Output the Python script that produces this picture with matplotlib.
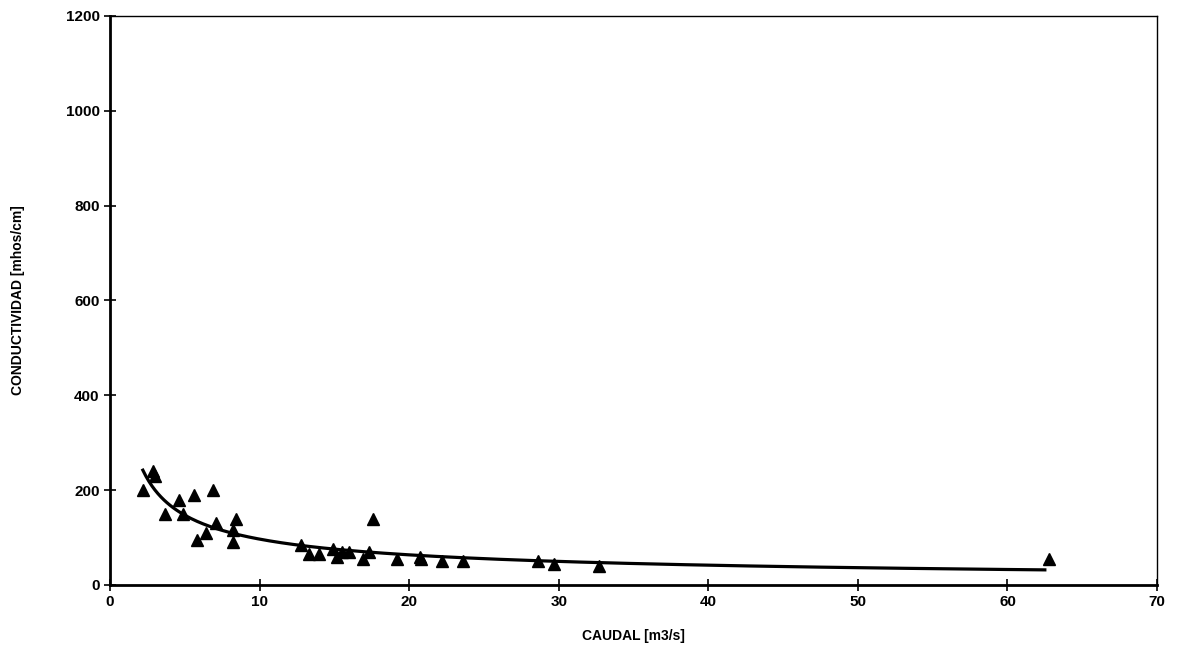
import numpy as np
import matplotlib
matplotlib.use("Agg")
import matplotlib.pyplot as plt

plt.rcParams['font.family'] = ['Liberation Sans', 'DejaVu Sans']

# caudal [m3/s] y conductividad [mhos/cm]
caudal = [2.2, 2.9, 3.0, 3.7, 4.6, 4.9, 5.6, 5.8, 6.4, 6.9, 7.1, 8.2, 8.2, 8.4,
          12.8, 13.3, 14.0, 14.9, 15.2, 15.5, 16.0, 16.9, 17.3, 17.6, 19.2,
          20.7, 20.8, 22.2, 23.6, 28.6, 29.7, 32.7, 62.8]
conductividad = [200, 240, 230, 150, 180, 150, 190, 95, 110, 200, 130, 90, 115, 140,
                 85, 65, 65, 75, 60, 70, 70, 55, 70, 140, 55,
                 60, 55, 50, 50, 50, 45, 40, 55]

x_ticks = [0, 10, 20, 30, 40, 50, 60, 70]
y_ticks = [0, 200, 400, 600, 800, 1000, 1200]

# linea de tendencia potencial (como en Excel)
b, ln_a = np.polyfit(np.log(caudal), np.log(conductividad), 1)
xf = np.linspace(2.2, 62.5, 300)
yf = np.exp(ln_a) * xf ** b

fig = plt.figure(figsize=(11.81, 6.55), dpi=100)
ax = fig.add_axes([0.0931, 0.1069, 0.8866, 0.8687])

ax.plot(xf, yf, color='black', lw=2.3, zorder=2)
ax.plot(caudal, conductividad, linestyle='none', marker='^', color='black',
        markersize=9, zorder=3)

ax.set_xlim(0, 70)
ax.set_ylim(0, 1200)
ax.set_xticks(x_ticks)
ax.set_yticks(y_ticks)
ax.tick_params(direction='inout', length=8, width=1.2, labelsize=11)
for lab in ax.get_xticklabels() + ax.get_yticklabels():
    lab.set_fontweight('bold')

ax.spines['left'].set_linewidth(2.0)
ax.spines['bottom'].set_linewidth(2.0)
ax.spines['top'].set_linewidth(1.0)
ax.spines['right'].set_linewidth(1.0)

ax.set_xlabel('CAUDAL [m3/s]', fontsize=10, fontweight='bold')
ax.xaxis.set_label_coords(0.5, -0.078)
ax.set_ylabel('CONDUCTIVIDAD [mhos/cm]', fontsize=10, fontweight='bold')
ax.yaxis.set_label_coords(-0.081, 0.5)

fig.savefig('out.png', dpi=100)
